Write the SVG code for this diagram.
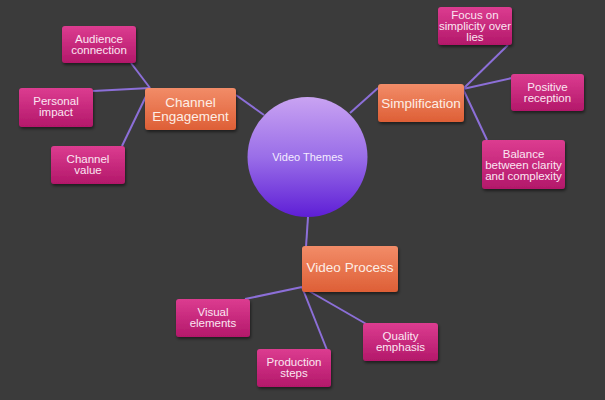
<svg xmlns="http://www.w3.org/2000/svg" width="605" height="400" viewBox="0 0 605 400">
<defs>
<linearGradient id="gPink" x1="0" y1="0" x2="0" y2="1"><stop offset="0" stop-color="#dc3c90"/><stop offset="1" stop-color="#b3186a"/></linearGradient>
<linearGradient id="gOrange" x1="0" y1="0" x2="0" y2="1"><stop offset="0" stop-color="#f28c68"/><stop offset="1" stop-color="#de5f36"/></linearGradient>
<linearGradient id="gCircle" x1="0" y1="0" x2="0" y2="1"><stop offset="0" stop-color="#c9a3f2"/><stop offset="0.5" stop-color="#9a6ee8"/><stop offset="1" stop-color="#5e1ed6"/></linearGradient>
<filter id="sh" x="-20%" y="-20%" width="140%" height="150%"><feDropShadow dx="1" dy="2" stdDeviation="1.5" flood-color="#000" flood-opacity="0.5"/></filter>
</defs>
<style>
.leaf{fill:url(#gPink);filter:url(#sh)}
.mid{fill:url(#gOrange);filter:url(#sh)}
.lt{font-family:"Liberation Sans",Arial,sans-serif;font-size:11.5px;fill:#fbe6f2;text-anchor:middle}
.mt{font-family:"Liberation Sans",Arial,sans-serif;font-size:13.5px;fill:#fdeee6;text-anchor:middle}
.ct{font-family:"Liberation Sans",Arial,sans-serif;font-size:11px;fill:#f4ecff;text-anchor:middle}
.edge{stroke:#8c6fd8;stroke-width:2;fill:none}
</style>
<rect width="605" height="400" fill="#3b3b3b"/>
<g id="connectors">
<line class="edge" x1="236" y1="95" x2="264" y2="115"/>
<line class="edge" x1="150" y1="88" x2="131" y2="63"/>
<line class="edge" x1="150" y1="88" x2="93" y2="91"/>
<line class="edge" x1="150" y1="88" x2="122" y2="146"/>
<line class="edge" x1="350" y1="113" x2="378" y2="88"/>
<line class="edge" x1="463" y1="89" x2="508" y2="45"/>
<line class="edge" x1="463" y1="89" x2="512" y2="78"/>
<line class="edge" x1="463" y1="89" x2="487" y2="140"/>
<line class="edge" x1="308" y1="217" x2="306" y2="247"/>
<line class="edge" x1="302" y1="287" x2="245" y2="299"/>
<line class="edge" x1="302" y1="287" x2="327" y2="350"/>
<line class="edge" x1="302" y1="287" x2="368" y2="325"/>
</g>
<g id="video-themes">
<circle cx="307.5" cy="157" r="60" fill="url(#gCircle)"/>
<text class="ct" x="307.5" y="161">Video Themes</text>
</g>
<g id="channel-engagement">
<rect class="mid" x="145" y="88" width="91" height="42" rx="3"/>
<text class="mt" x="190.5" y="107">Channel</text>
<text class="mt" x="190.5" y="121">Engagement</text>
</g>
<g id="audience-connection">
<rect class="leaf" x="62" y="26" width="74" height="37" rx="3"/>
<text class="lt" x="99" y="43">Audience</text>
<text class="lt" x="99" y="54">connection</text>
</g>
<g id="personal-impact">
<rect class="leaf" x="19" y="88" width="74" height="39" rx="3"/>
<text class="lt" x="56" y="105">Personal</text>
<text class="lt" x="56" y="116">impact</text>
</g>
<g id="channel-value">
<rect class="leaf" x="51" y="146" width="74" height="38" rx="3"/>
<text class="lt" x="88" y="163">Channel</text>
<text class="lt" x="88" y="174">value</text>
</g>
<g id="simplification">
<rect class="mid" x="378" y="84" width="86" height="38" rx="3"/>
<text class="mt" x="421" y="108">Simplification</text>
</g>
<g id="focus-on-simplicity">
<rect class="leaf" x="438" y="7" width="74" height="38" rx="3"/>
<text class="lt" x="475" y="19">Focus on</text>
<text class="lt" x="475" y="30">simplicity over</text>
<text class="lt" x="475" y="41">lies</text>
</g>
<g id="positive-reception">
<rect class="leaf" x="511" y="74" width="73" height="37" rx="3"/>
<text class="lt" x="547.5" y="91">Positive</text>
<text class="lt" x="547.5" y="102">reception</text>
</g>
<g id="balance">
<rect class="leaf" x="482" y="140" width="83" height="49" rx="3"/>
<text class="lt" x="523.5" y="158">Balance</text>
<text class="lt" x="523.5" y="169">between clarity</text>
<text class="lt" x="523.5" y="180">and complexity</text>
</g>
<g id="video-process">
<rect class="mid" x="302" y="246" width="96" height="46" rx="3"/>
<text class="mt" x="350" y="272">Video Process</text>
</g>
<g id="visual-elements">
<rect class="leaf" x="176" y="299" width="74" height="38" rx="3"/>
<text class="lt" x="213" y="316">Visual</text>
<text class="lt" x="213" y="327">elements</text>
</g>
<g id="production-steps">
<rect class="leaf" x="257" y="349" width="74" height="38" rx="3"/>
<text class="lt" x="294" y="366">Production</text>
<text class="lt" x="294" y="377">steps</text>
</g>
<g id="quality-emphasis">
<rect class="leaf" x="363" y="323" width="75" height="38" rx="3"/>
<text class="lt" x="400.5" y="340">Quality</text>
<text class="lt" x="400.5" y="351">emphasis</text>
</g>
</svg>
